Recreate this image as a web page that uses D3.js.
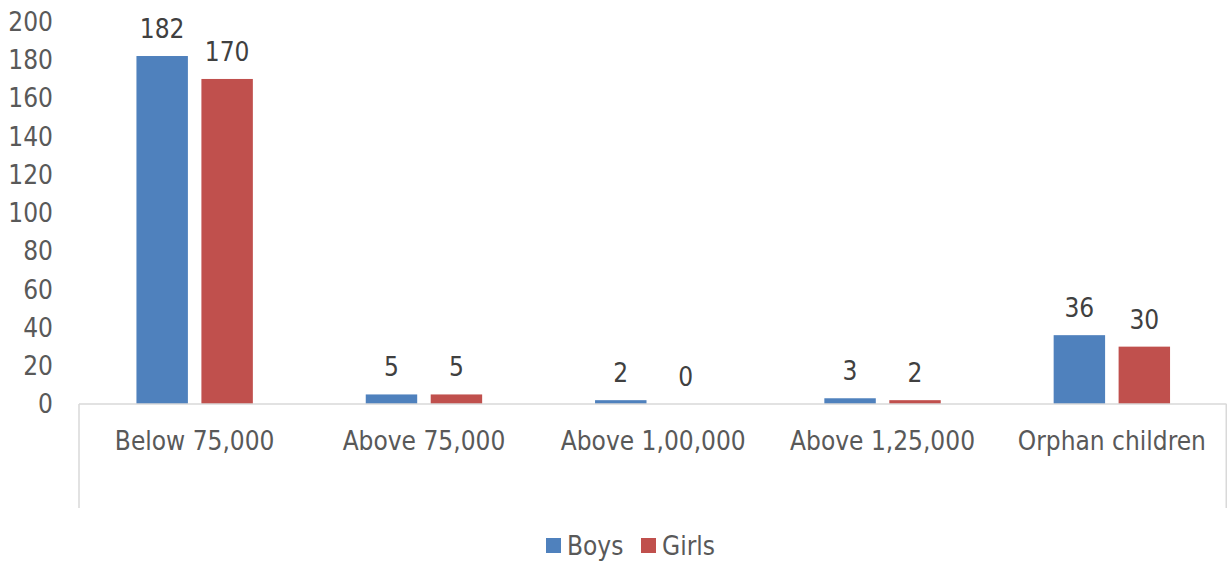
<!DOCTYPE html>
<html>
<head>
<meta charset="utf-8">
<script src="https://cdn.jsdelivr.net/npm/d3@7"></script>
<style>
  body { margin: 0; background: #fff; }
  text { font-family: "DejaVu Sans Condensed", "DejaVu Sans", sans-serif; font-size: 26px; }
</style>
</head>
<body>
<div id="chart"></div>
<script>
// données
const categories = ["Below 75,000", "Above 75,000", "Above 1,00,000", "Above 1,25,000", "Orphan children"];
const seriesNames = ["Boys", "Girls"];
const boys = [182, 5, 2, 3, 36];
const girls = [170, 5, 0, 2, 30];
const yTicks = [0, 20, 40, 60, 80, 100, 120, 140, 160, 180, 200];
const colors = {Boys: "#4F81BD", Girls: "#C0504D"};

const W = 1227, H = 563;
const margin = {top: 21.6, right: 0, bottom: 159, left: 80};

const svg = d3.select("#chart").append("svg")
    .attr("width", W)
    .attr("height", H);

const x = d3.scaleBand().domain(categories).range([margin.left, W - 0.5]);
const xInner = d3.scaleBand().domain(seriesNames).range([0, x.bandwidth()])
    .paddingInner(0.208).paddingOuter(0.869);
const y = d3.scaleLinear().domain([0, 200]).range([H - margin.bottom, margin.top]);

const data = categories.map((c, i) => ({cat: c, values: [
    {name: "Boys", value: boys[i]},
    {name: "Girls", value: girls[i]}
]}));

// barres
const groups = svg.append("g").selectAll("g")
    .data(data)
    .join("g")
    .attr("transform", d => "translate(" + x(d.cat) + ",0)");

groups.selectAll("rect")
    .data(d => d.values)
    .join("rect")
    .attr("x", d => xInner(d.name))
    .attr("width", xInner.bandwidth())
    .attr("y", d => y(d.value))
    .attr("height", d => y(0) - y(d.value))
    .attr("fill", d => colors[d.name]);

// étiquettes de valeurs
groups.selectAll("text")
    .data(d => d.values)
    .join("text")
    .attr("x", d => xInner(d.name) + xInner.bandwidth() / 2)
    .attr("y", d => y(d.value) - 18)
    .attr("text-anchor", "middle")
    .attr("fill", "#404040")
    .text(d => d.value);

// axe x
const axisY = y(0);
const xAxis = svg.append("g");
xAxis.append("line")
    .attr("x1", margin.left - 1).attr("x2", W - 0.5)
    .attr("y1", axisY).attr("y2", axisY)
    .attr("stroke", "#D9D9D9").attr("stroke-width", 1.5);
[margin.left - 1, W - 0.75].forEach(px => {
    xAxis.append("line")
        .attr("x1", px).attr("x2", px)
        .attr("y1", axisY).attr("y2", 508)
        .attr("stroke", "#D9D9D9").attr("stroke-width", 1.5);
});
xAxis.selectAll("text.cat")
    .data(categories)
    .join("text")
    .attr("class", "cat")
    .attr("x", d => x(d) + x.bandwidth() / 2)
    .attr("y", 450)
    .attr("text-anchor", "middle")
    .attr("fill", "#595959")
    .text(d => d);

// axe y (sans ligne)
svg.append("g").selectAll("text")
    .data(yTicks)
    .join("text")
    .attr("x", 53)
    .attr("y", d => y(d))
    .attr("dy", "0.36em")
    .attr("text-anchor", "end")
    .attr("fill", "#595959")
    .text(d => d);

// légende
const legend = svg.append("g").attr("transform", "translate(546,538)");
const legX = [0, 95];
seriesNames.forEach((n, i) => {
    legend.append("rect")
        .attr("x", legX[i]).attr("y", 0)
        .attr("width", 15).attr("height", 15)
        .attr("fill", colors[n]);
    legend.append("text")
        .attr("x", legX[i] + 21).attr("y", 7.5)
        .attr("dy", "0.36em")
        .attr("fill", "#595959")
        .text(n);
});
</script>
</body>
</html>
